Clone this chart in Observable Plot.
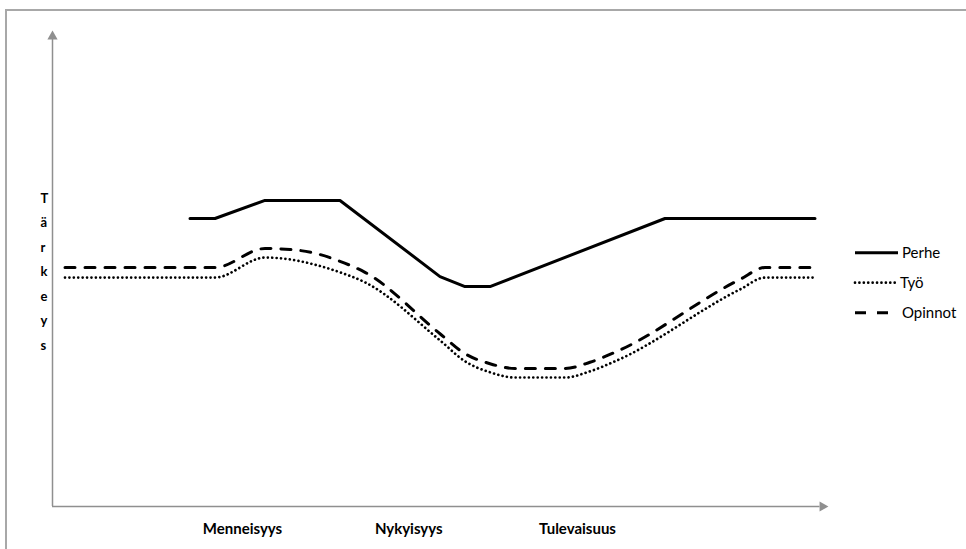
<!DOCTYPE html>
<html>
<head>
<meta charset="utf-8">
<script src="https://cdn.jsdelivr.net/npm/d3@7"></script>
<script src="https://cdn.jsdelivr.net/npm/@observablehq/plot@0.6"></script>
<style>
  html, body { margin: 0; padding: 0; background: #fff; overflow: hidden; }
  #wrap { position: relative; width: 966px; height: 549px; overflow: hidden; font-family: Lato, "Open Sans", sans-serif; }
  #frame { position: absolute; left: 5px; top: 9px; width: 1000px; height: 600px; border-left: 2px solid #a8a8a8; border-top: 2px solid #a8a8a8; }
  #chart { position: absolute; left: 0; top: 0; }
  #legend { position: absolute; left: 0; top: 0; }
</style>
</head>
<body>
<div id="wrap">
  <div id="frame"></div>
  <div id="chart"></div>
  <svg id="legend" width="966" height="549"></svg>
</div>
<script>
// Category index (0..30) and importance values
const perheIdx   = [5, 6, 8, 11, 15, 16, 17, 24, 30];
const perheVal   = [6.05, 6.05, 6.43, 6.43, 4.83, 4.62, 4.62, 6.05, 6.05];

const tyoIdx     = [0, 6, 8, 9, 10, 11, 12, 15, 16, 17, 18, 20, 21, 22, 27, 28, 30];
const tyoVal     = [4.81, 4.81, 5.23, 5.19, 5.08, 4.92, 4.71, 3.49, 3.05, 2.82, 2.71, 2.71, 2.84, 3.05, 4.56, 4.81, 4.81];

const opinnotIdx = [0, 6, 8, 9, 10, 11, 12, 15, 16, 17, 18, 20, 21, 22, 27, 28, 30];
const opinnotVal = [5.02, 5.02, 5.42, 5.40, 5.32, 5.15, 4.92, 3.63, 3.21, 3.00, 2.90, 2.90, 3.03, 3.24, 4.77, 5.02, 5.02];

const periodLabels = ["Menneisyys", "Nykyisyys", "Tulevaisuus"];
const periodAt     = [7.1, 13.75, 20.5];

const seriesNames = ["Perhe", "Työ", "Opinnot"];
const yTitle = "Tärkeys";

const toRows = (idx, val) => idx.map((i, k) => ({i, v: val[k]}));
const perhe = toRows(perheIdx, perheVal);
const tyo = toRows(tyoIdx, tyoVal);
const opinnot = toRows(opinnotIdx, opinnotVal);
const labels = periodLabels.map((t, k) => ({t, at: periodAt[k]}));

const axisColor = "#8f8f8f";
const dotDash = "0.01,4.4";
const longDash = "10,10";

const chart = Plot.plot({
  width: 966,
  height: 549,
  marginLeft: 52,
  marginRight: 139,
  marginTop: 30,
  marginBottom: 43,
  style: {background: "transparent", fontFamily: "Lato, 'Open Sans', sans-serif"},
  x: {domain: [-0.5, 30.5], axis: null},
  y: {domain: [0, 10], axis: null},
  marks: [
    Plot.ruleX([-0.5], {y1: 0, y2: 9.85, stroke: axisColor, strokeWidth: 1.5}),
    Plot.ruleY([0], {x1: -0.5, x2: 30.2, stroke: axisColor, strokeWidth: 1.5}),
    Plot.dot([{x: -0.5, y: 10}], {x: "x", y: "y", symbol: "triangle", r: 3.8, fill: axisColor, stroke: null, dy: 6}),
    Plot.dot([{x: 30.5, y: 0}], {x: "x", y: "y", symbol: "triangle", r: 3.8, fill: axisColor, stroke: null, rotate: 90, dx: -5}),
    Plot.line(tyo, {x: "i", y: "v", curve: "monotone-x", stroke: "#000", strokeWidth: 2.7, strokeDasharray: dotDash, strokeLinecap: "round"}),
    Plot.line(opinnot, {x: "i", y: "v", curve: "monotone-x", stroke: "#000", strokeWidth: 3, strokeDasharray: longDash}),
    Plot.line(perhe, {x: "i", y: "v", curve: "linear", stroke: "#000", strokeWidth: 3}),
    Plot.text(labels, {x: "at", y: 0, text: "t", dy: 23, fontSize: 15, fontWeight: "bold", fill: "#000"}),
    Plot.text([yTitle], {text: d => d.split("").join("\n"), frameAnchor: "left", dx: -12, fontSize: 13, fontWeight: "bold", lineHeight: 1.88, fill: "#000"})
  ]
});
document.getElementById("chart").appendChild(chart);

// Legend
const lg = d3.select("#legend");
const rows = [
  {name: seriesNames[0], dash: null, w: 3, x2: 898, cap: "butt"},
  {name: seriesNames[1], dash: dotDash, w: 2.7, x2: 898, cap: "round"},
  {name: seriesNames[2], dash: "11,11", w: 3, x2: 893, cap: "butt"}
];
rows.forEach((r, k) => {
  const y = 252.7 + k * 30;
  lg.append("line").attr("x1", 855).attr("x2", r.x2).attr("y1", y).attr("y2", y)
    .attr("stroke", "#000").attr("stroke-width", r.w).attr("stroke-dasharray", r.dash)
    .attr("stroke-linecap", r.cap);
  lg.append("text").attr("x", k === 1 ? 900 : 902).attr("y", y).attr("dy", "0.35em")
    .attr("font-size", 15).attr("font-family", "Lato, 'Open Sans', sans-serif").attr("fill", "#000").text(r.name);
});
</script>
</body>
</html>
